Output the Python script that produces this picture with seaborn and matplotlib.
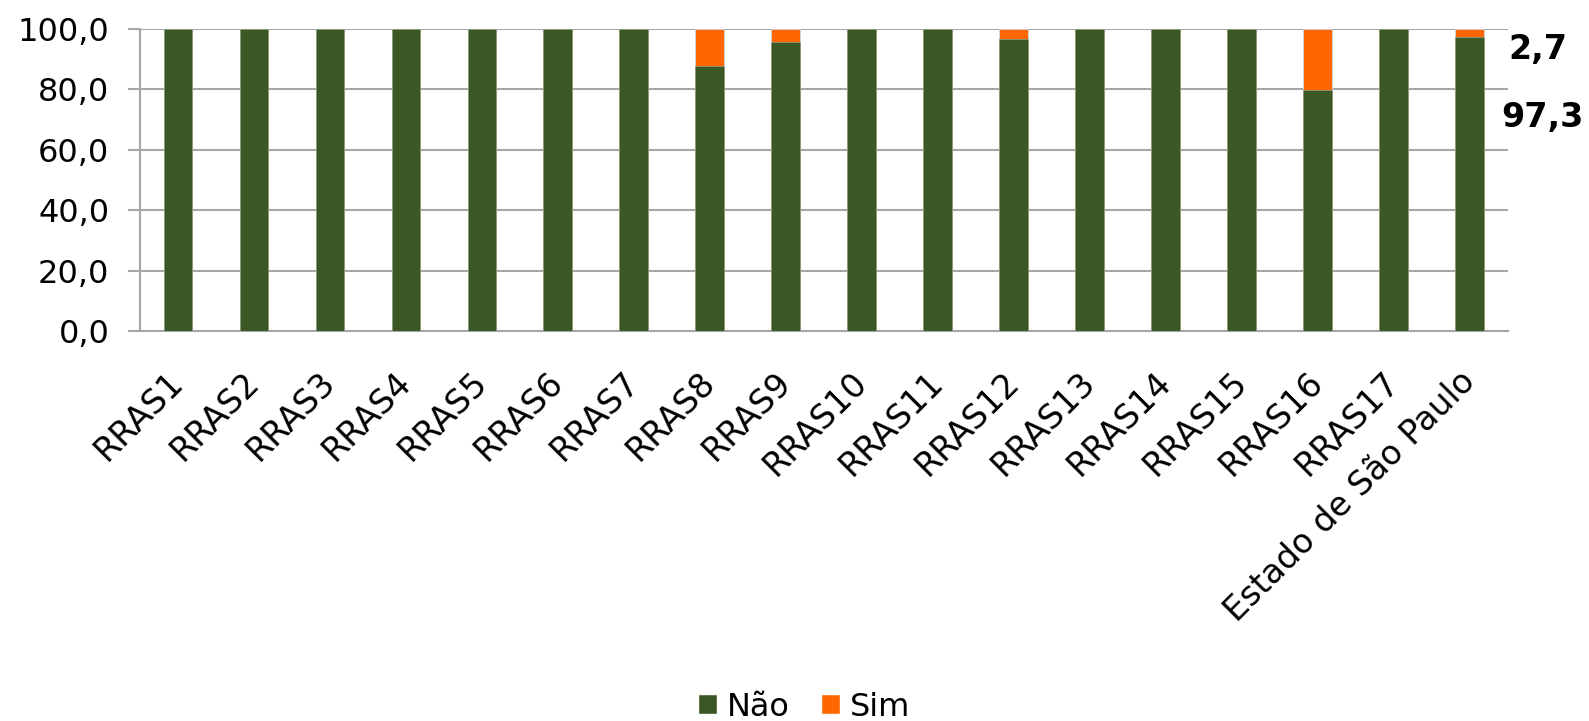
import pandas as pd
import numpy as np
import matplotlib.pyplot as plt
import seaborn as sns
from matplotlib.patches import Patch
from matplotlib.ticker import FixedLocator

# dados (percentual)
regioes = ['RRAS1', 'RRAS2', 'RRAS3', 'RRAS4', 'RRAS5', 'RRAS6', 'RRAS7', 'RRAS8',
           'RRAS9', 'RRAS10', 'RRAS11', 'RRAS12', 'RRAS13', 'RRAS14', 'RRAS15',
           'RRAS16', 'RRAS17', 'Estado de São Paulo']
nao = [100.0, 100.0, 100.0, 100.0, 100.0, 100.0, 100.0, 87.8,
       95.8, 100.0, 100.0, 96.8, 100.0, 100.0, 100.0,
       79.6, 100.0, 97.3]
sim = [0.0, 0.0, 0.0, 0.0, 0.0, 0.0, 0.0, 12.2,
       4.2, 0.0, 0.0, 3.2, 0.0, 0.0, 0.0,
       20.4, 0.0, 2.7]
yticks = [0, 20, 40, 60, 80, 100]

verde = '#3B5724'
laranja = '#FF6600'
cinza = '#A6A6A6'

df = pd.DataFrame({'regiao': regioes, 'Não': nao, 'Sim': sim})
df['total'] = df['Não'] + df['Sim']

sns.set_style('white')
plt.rcParams['font.family'] = ['DejaVu Sans']
plt.rcParams['text.color'] = 'black'
plt.rcParams['xtick.color'] = 'black'
plt.rcParams['ytick.color'] = 'black'

fig = plt.figure(figsize=(15.89, 7.21), dpi=100)
ax = fig.add_axes([0.0881, 0.541, 0.8608, 0.419])

# barras empilhadas: total (Sim por cima) e depois Não
sns.barplot(data=df, x='regiao', y='total', color=laranja, width=0.38,
            saturation=1, ax=ax, edgecolor='#D9D9D9', linewidth=0.6, zorder=3)
sns.barplot(data=df, x='regiao', y='Não', color=verde, width=0.38,
            saturation=1, ax=ax, edgecolor='#8A9A80', linewidth=0.6, zorder=4)

ax.set_xlim(-0.5, len(regioes) - 0.5)
ax.set_ylim(0, 100)
ax.set_yticks(yticks)
ax.set_yticklabels([f'{v:.1f}'.replace('.', ',') for v in yticks], fontsize=23)
ax.yaxis.grid(True, color=cinza, linewidth=1.5, zorder=0)
ax.set_axisbelow(True)
ax.set_xlabel('')
ax.set_ylabel('')

# ticks do eixo x entre categorias
ax.xaxis.set_minor_locator(FixedLocator(np.arange(-0.5, len(regioes), 1.0)))
ax.tick_params(axis='x', which='major', length=0, pad=33)
ax.tick_params(axis='x', which='minor', length=9, width=1.5, color=cinza, direction='out')
ax.tick_params(axis='y', length=9, width=1.5, color=cinza, labelcolor='black',
               direction='out', left=True, pad=13)
plt.setp(ax.get_xticklabels(), rotation=45, ha='right', va='center',
         rotation_mode='anchor', fontsize=24, color='black')

for lado in ['top', 'right']:
    ax.spines[lado].set_visible(False)
for lado in ['left', 'bottom']:
    ax.spines[lado].set_color(cinza)
    ax.spines[lado].set_linewidth(1.5)

# rótulos do Estado
ax.text(17.9, 93, f'{sim[-1]:.1f}'.replace('.', ','), ha='center', va='center',
        fontsize=24, fontweight='bold', color='black', clip_on=False)
ax.text(17.95, 70.5, f'{nao[-1]:.1f}'.replace('.', ','), ha='center', va='center',
        fontsize=24, fontweight='bold', color='black', clip_on=False)

handles = [Patch(facecolor=verde, label='Não'), Patch(facecolor=laranja, label='Sim')]
fig.legend(handles=handles, loc='center', bbox_to_anchor=(0.506, 1 - 707 / 721),
           ncol=2, frameon=False, fontsize=23, handlelength=0.6, handleheight=0.6,
           handletextpad=0.3, columnspacing=1.0)

fig.savefig('out.png', dpi=100)
